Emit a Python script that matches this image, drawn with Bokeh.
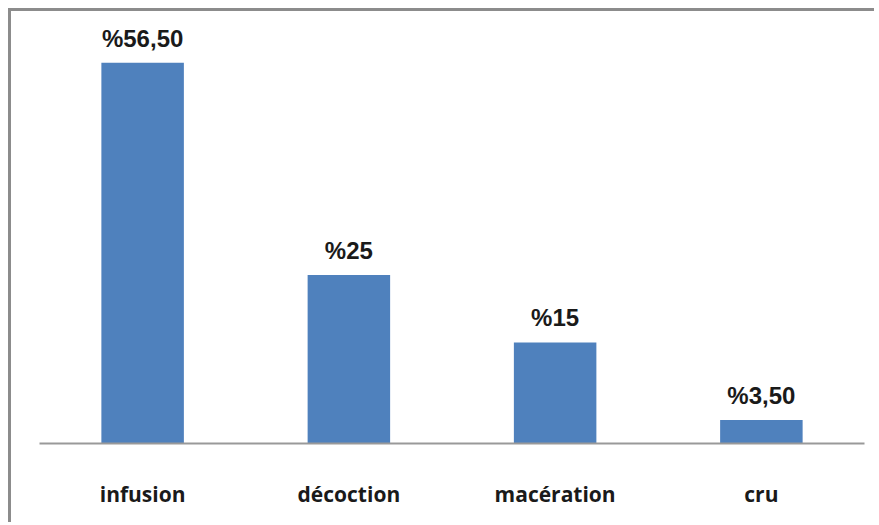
from bokeh.plotting import figure
from bokeh.models import ColumnDataSource, LabelSet, FactorRange
from bokeh.core.properties import value
from bokeh.embed import file_html
from bokeh.resources import INLINE

categories = ["infusion", "décoction", "macération", "cru"]
values = [56.5, 25, 15, 3.5]
value_labels = ["%56,50", "%25", "%15", "%3,50"]

src = ColumnDataSource(dict(cat=categories, val=values, lab=value_labels))

p = figure(
    width=866, height=514,
    x_range=FactorRange(*categories, range_padding=0),
    y_range=(0, 63.5),
    output_backend="svg", toolbar_location=None,
    min_border_left=28, min_border_right=13, min_border_top=4, min_border_bottom=82,
    styles={"margin-left": "8px", "margin-top": "8px",
            "border-left": "3px solid #8c8c8c", "border-top": "3px solid #8c8c8c"},
)
p.vbar(x="cat", top="val", width=0.4, source=src, fill_color="#4F81BD", line_color=None)

labels = LabelSet(x="cat", y="val", text="lab", source=src, text_align="center",
                  text_baseline="alphabetic", y_offset=16,
                  text_font=value("Liberation Sans"), text_font_style="bold",
                  text_font_size="24px", text_color="#1a1a1a")
p.add_layout(labels)

p.outline_line_color = None
p.xgrid.grid_line_color = None
p.ygrid.grid_line_color = None
p.yaxis.visible = False
p.xaxis.axis_line_color = "#999999"
p.xaxis.axis_line_width = 2
p.xaxis.major_tick_line_color = None
p.xaxis.minor_tick_line_color = None
p.xaxis.major_label_standoff = 30
p.xaxis.major_label_text_font = "Open Sans"
p.xaxis.major_label_text_font_style = "bold"
p.xaxis.major_label_text_font_size = "21px"
p.xaxis.major_label_text_color = "#1a1a1a"
p.xaxis.major_label_orientation = "horizontal"

open("out.html", "w").write(file_html(p, INLINE))
